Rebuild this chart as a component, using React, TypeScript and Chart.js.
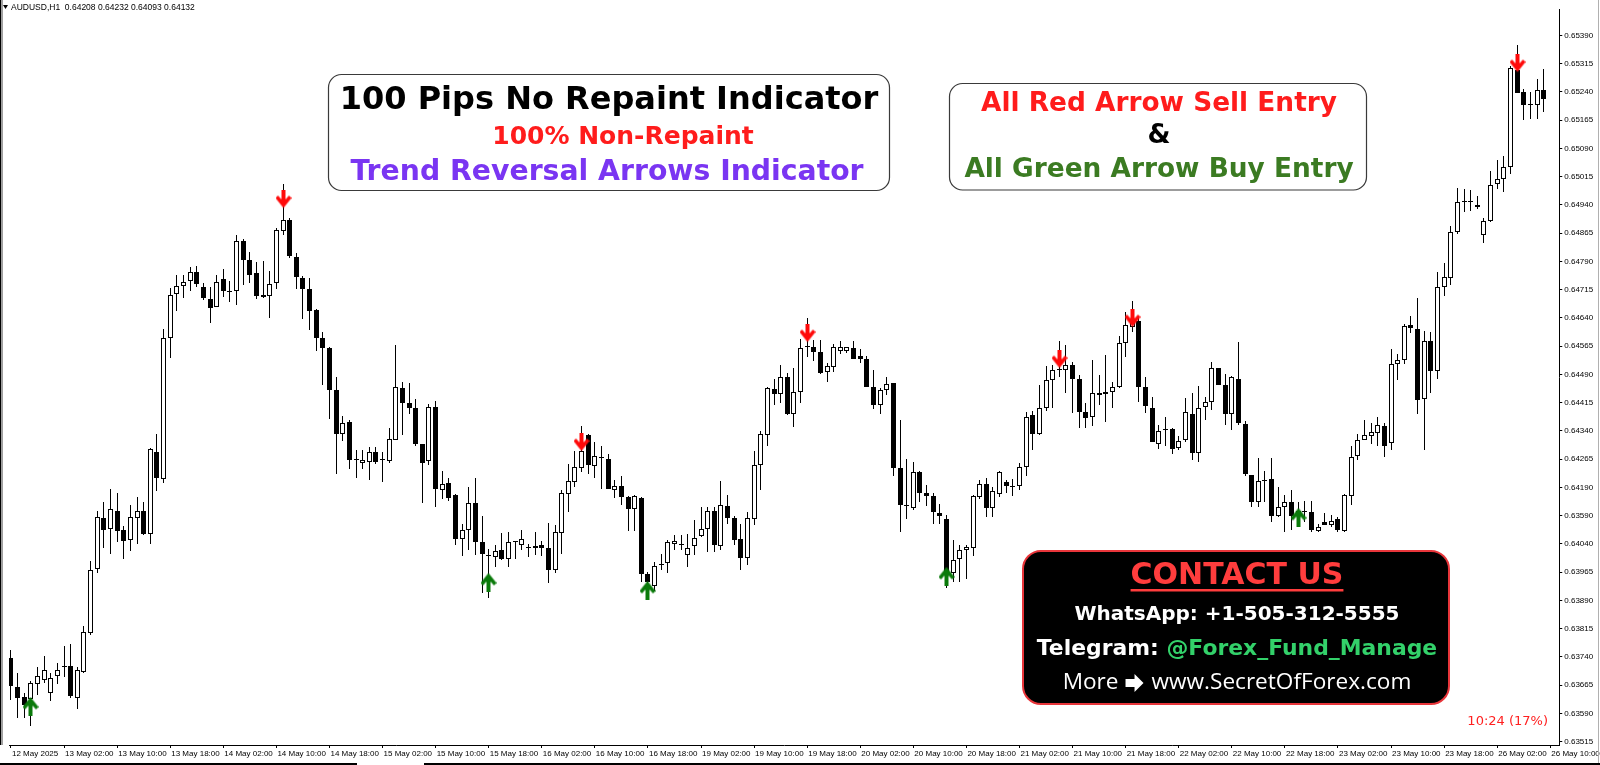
import React, { useEffect, useRef } from "react";
import { Chart, registerables } from "chart.js";

Chart.register(...registerables);

// ---- H1 candles, AUDUSD, 12 May 2025 18:00 -> 26 May 2025 09:00 ----
const openPrices = [
  0.63738, 0.63661, 0.63633, 0.63629, 0.63668, 0.6368, 0.63645, 0.63688, 0.63712, 0.63716,
  0.63632, 0.63699, 0.63803, 0.63973, 0.6411, 0.6408, 0.64128, 0.64076, 0.6405, 0.64109,
  0.64128, 0.64065, 0.64284, 0.64213, 0.64587, 0.64704, 0.64725, 0.64737, 0.64762, 0.64723,
  0.6469, 0.6467, 0.64743, 0.6471, 0.64711, 0.64845, 0.64795, 0.6476, 0.647, 0.64697,
  0.64733, 0.64872, 0.649, 0.64801, 0.64747, 0.64716, 0.64661, 0.64587, 0.6456, 0.64448,
  0.64333, 0.64365, 0.64264, 0.64255, 0.64257, 0.64284, 0.64264, 0.6426, 0.64315, 0.64455,
  0.64415, 0.644, 0.64304, 0.6426, 0.64404, 0.64183, 0.64203, 0.64169, 0.64054, 0.64077,
  0.64148, 0.64045, 0.64007, 0.64006, 0.64023, 0.63999, 0.64046, 0.64038, 0.64031, 0.64028,
  0.64038, 0.6403, 0.63971, 0.6407, 0.64172, 0.64205, 0.64242, 0.6433, 0.64247, 0.6427,
  0.64266, 0.64184, 0.64194, 0.64164, 0.64133, 0.64162, 0.6396, 0.63927, 0.63986, 0.6399,
  0.64041, 0.64041, 0.6401, 0.64034, 0.6406, 0.6408, 0.64128, 0.64034, 0.6414, 0.64108,
  0.64052, 0.64003, 0.64106, 0.64249, 0.64328, 0.64451, 0.64438, 0.64484, 0.64385, 0.64444,
  0.64563, 0.64564, 0.64549, 0.64497, 0.6451, 0.64552, 0.64552, 0.64561, 0.64539, 0.64532,
  0.64457, 0.64409, 0.64448, 0.64466, 0.64241, 0.64143, 0.64135, 0.64232, 0.64175, 0.64166,
  0.64122, 0.64105, 0.63962, 0.63999, 0.64023, 0.64029, 0.64164, 0.64199, 0.64136, 0.64172,
  0.64205, 0.64194, 0.64194, 0.64245, 0.64383, 0.64333, 0.64401, 0.64475, 0.64501, 0.64501,
  0.64516, 0.64477, 0.6439, 0.64376, 0.6444, 0.64437, 0.64442, 0.64457, 0.64573, 0.64617,
  0.64631, 0.64457, 0.644, 0.64304, 0.64346, 0.64346, 0.64295, 0.64315, 0.64385, 0.64282,
  0.64403, 0.64416, 0.64506, 0.64462, 0.64385, 0.64477, 0.64358, 0.64222, 0.64152, 0.6421,
  0.64212, 0.64115, 0.64137, 0.64152, 0.64115, 0.64125, 0.64124, 0.64074, 0.64097, 0.64089,
  0.64106, 0.64074, 0.64167, 0.64273, 0.64315, 0.64327, 0.64334, 0.64354, 0.64308, 0.64518,
  0.64527, 0.64622, 0.6461, 0.64424, 0.6458, 0.64499, 0.64723, 0.64746, 0.64869, 0.64948,
  0.64948, 0.64934, 0.6486, 0.64897, 0.64996, 0.65009, 0.6504, 0.65299, 0.65239, 0.65205,
  0.65205, 0.65246,
];
const highPrices = [
  0.63759, 0.63696, 0.63645, 0.63677, 0.63714, 0.63743, 0.63696, 0.63723, 0.63769, 0.63774,
  0.63712, 0.63823, 0.63994, 0.64128, 0.64151, 0.64186, 0.64174, 0.64087, 0.64143, 0.64165,
  0.64151, 0.64295, 0.64331, 0.6461, 0.6472, 0.64753, 0.64755, 0.64774, 0.64779, 0.64734,
  0.64723, 0.64753, 0.64771, 0.64737, 0.6486, 0.6485, 0.64814, 0.64788, 0.64792, 0.64765,
  0.64878, 0.64995, 0.64905, 0.64812, 0.64751, 0.64747, 0.64663, 0.64602, 0.64562, 0.64483,
  0.6438, 0.64369, 0.6429, 0.6429, 0.64298, 0.64298, 0.64283, 0.64349, 0.64569, 0.6447,
  0.64466, 0.64426, 0.64306, 0.64412, 0.6442, 0.64234, 0.64216, 0.64172, 0.64093, 0.6419,
  0.64216, 0.64113, 0.64027, 0.64036, 0.6407, 0.64071, 0.64049, 0.64078, 0.64041, 0.64071,
  0.64049, 0.64096, 0.64089, 0.64183, 0.64251, 0.64286, 0.64352, 0.64332, 0.6431, 0.64299,
  0.64278, 0.64209, 0.6422, 0.64166, 0.64171, 0.64164, 0.63966, 0.63993, 0.64014, 0.6405,
  0.64063, 0.64064, 0.64065, 0.64104, 0.64137, 0.64137, 0.64137, 0.64206, 0.6417, 0.64115,
  0.64093, 0.64126, 0.64286, 0.64339, 0.64457, 0.64479, 0.64514, 0.64495, 0.64506, 0.64584,
  0.64641, 0.64582, 0.64582, 0.64519, 0.64571, 0.64578, 0.64564, 0.64578, 0.64558, 0.64538,
  0.64503, 0.64453, 0.64484, 0.64468, 0.6437, 0.64266, 0.64257, 0.64234, 0.64197, 0.64175,
  0.64146, 0.64117, 0.6405, 0.64038, 0.64036, 0.6417, 0.6421, 0.64216, 0.6419, 0.64234,
  0.64209, 0.64212, 0.64254, 0.64391, 0.64393, 0.64462, 0.64512, 0.64514, 0.6458, 0.64567,
  0.64523, 0.64488, 0.64413, 0.64529, 0.64488, 0.64541, 0.6447, 0.64593, 0.64655, 0.64685,
  0.6464, 0.64484, 0.64431, 0.64356, 0.64378, 0.64348, 0.64326, 0.64428, 0.6444, 0.64459,
  0.64429, 0.64523, 0.64508, 0.64492, 0.64485, 0.64576, 0.64367, 0.64224, 0.64269, 0.64234,
  0.64269, 0.6419, 0.6417, 0.64184, 0.6415, 0.64154, 0.64154, 0.64093, 0.64121, 0.64117,
  0.64111, 0.64172, 0.64299, 0.64332, 0.64369, 0.64362, 0.64376, 0.64362, 0.64558, 0.64545,
  0.64625, 0.64646, 0.64692, 0.64606, 0.64602, 0.64761, 0.64786, 0.64885, 0.64986, 0.64981,
  0.64979, 0.64963, 0.64906, 0.65031, 0.65058, 0.65069, 0.65308, 0.65365, 0.65248, 0.65239,
  0.65274, 0.65301,
];
const lowPrices = [
  0.63625, 0.63577, 0.63577, 0.63556, 0.63638, 0.63672, 0.63622, 0.63668, 0.63686, 0.6363,
  0.63603, 0.63696, 0.63799, 0.63963, 0.64029, 0.64012, 0.64045, 0.63999, 0.64022, 0.6404,
  0.64064, 0.6404, 0.6418, 0.64202, 0.64533, 0.64659, 0.64693, 0.64711, 0.64723, 0.64688,
  0.64626, 0.64669, 0.64695, 0.64681, 0.64674, 0.64727, 0.64734, 0.6469, 0.64693, 0.64641,
  0.64716, 0.64859, 0.64799, 0.64716, 0.64637, 0.64609, 0.64552, 0.64461, 0.64371, 0.64225,
  0.64312, 0.6424, 0.64216, 0.6424, 0.6421, 0.64251, 0.64205, 0.64255, 0.64315, 0.6433,
  0.64385, 0.64299, 0.64148, 0.64249, 0.64137, 0.64159, 0.64155, 0.64036, 0.64008, 0.64023,
  0.6401, 0.63909, 0.63896, 0.63979, 0.63997, 0.63979, 0.63999, 0.64023, 0.64004, 0.6401,
  0.64008, 0.63935, 0.63964, 0.64012, 0.64124, 0.64192, 0.64231, 0.64225, 0.64216, 0.64187,
  0.64185, 0.64163, 0.64143, 0.64073, 0.64073, 0.6394, 0.63892, 0.63914, 0.63971, 0.63964,
  0.64023, 0.64023, 0.63979, 0.6401, 0.64058, 0.64019, 0.64019, 0.64023, 0.64093, 0.64036,
  0.63971, 0.63984, 0.64089, 0.64184, 0.64301, 0.64409, 0.64413, 0.64383, 0.6435, 0.64413,
  0.64536, 0.64525, 0.64491, 0.6447, 0.64497, 0.64543, 0.64547, 0.6453, 0.64519, 0.64456,
  0.64398, 0.64385, 0.64435, 0.64219, 0.64071, 0.64106, 0.6413, 0.6415, 0.6414, 0.64093,
  0.64093, 0.63922, 0.6394, 0.6394, 0.63947, 0.64008, 0.64159, 0.64111, 0.64111, 0.64164,
  0.64175, 0.64168, 0.64183, 0.64219, 0.64289, 0.64328, 0.64392, 0.644, 0.64484, 0.6444,
  0.64387, 0.64348, 0.64348, 0.64352, 0.64409, 0.64365, 0.644, 0.64453, 0.64536, 0.64602,
  0.64418, 0.64387, 0.6431, 0.64291, 0.64299, 0.6428, 0.64289, 0.6431, 0.64264, 0.64257,
  0.64368, 0.64396, 0.64462, 0.64356, 0.64343, 0.64356, 0.6422, 0.64137, 0.64137, 0.64152,
  0.64098, 0.64111, 0.64071, 0.64076, 0.64085, 0.64098, 0.64071, 0.64071, 0.64089, 0.64084,
  0.64071, 0.64071, 0.64143, 0.64264, 0.64315, 0.64304, 0.64299, 0.64271, 0.64289, 0.64475,
  0.64517, 0.64599, 0.64385, 0.6429, 0.64441, 0.64479, 0.64698, 0.64727, 0.64863, 0.64922,
  0.64924, 0.64928, 0.64838, 0.64894, 0.64981, 0.64975, 0.65023, 0.65236, 0.65166, 0.65167,
  0.65167, 0.65187,
];
const closePrices = [
  0.63664, 0.63632, 0.63611, 0.6367, 0.6369, 0.63706, 0.63683, 0.63706, 0.63716, 0.63635,
  0.63706, 0.63805, 0.63971, 0.64111, 0.64077, 0.64132, 0.64075, 0.64047, 0.64111, 0.64128,
  0.64065, 0.64291, 0.64216, 0.64587, 0.64702, 0.64725, 0.64735, 0.64762, 0.64729, 0.64693,
  0.64667, 0.64735, 0.64711, 0.64712, 0.64844, 0.64794, 0.64755, 0.64698, 0.64695, 0.64731,
  0.64874, 0.649, 0.64804, 0.64749, 0.64716, 0.64659, 0.64587, 0.6456, 0.64448, 0.64333,
  0.64362, 0.64264, 0.64262, 0.64262, 0.64284, 0.64257, 0.64262, 0.64319, 0.64457, 0.64415,
  0.644, 0.64304, 0.64254, 0.64403, 0.64185, 0.64198, 0.64163, 0.64054, 0.64077, 0.64148,
  0.64045, 0.64012, 0.6401, 0.6402, 0.63999, 0.64045, 0.64047, 0.64052, 0.6403, 0.64034,
  0.64029, 0.63971, 0.64071, 0.64174, 0.64206, 0.64244, 0.64286, 0.64249, 0.64273, 0.64267,
  0.64187, 0.64194, 0.64164, 0.64133, 0.64168, 0.63959, 0.6394, 0.63981, 0.63984, 0.64045,
  0.64048, 0.64038, 0.6403, 0.64056, 0.6408, 0.64128, 0.64038, 0.64142, 0.64108, 0.64051,
  0.64003, 0.64108, 0.64249, 0.64332, 0.64453, 0.64438, 0.64484, 0.64385, 0.64444, 0.6456,
  0.64562, 0.64549, 0.64495, 0.64512, 0.64563, 0.64564, 0.64562, 0.64532, 0.6453, 0.64457,
  0.64409, 0.64448, 0.64464, 0.64241, 0.64142, 0.6414, 0.64232, 0.64175, 0.64168, 0.64124,
  0.64114, 0.63957, 0.63997, 0.64023, 0.64032, 0.64166, 0.64199, 0.64136, 0.64181, 0.64231,
  0.64193, 0.64192, 0.64245, 0.64378, 0.64333, 0.64401, 0.64475, 0.64503, 0.64502, 0.64516,
  0.64477, 0.6439, 0.64374, 0.64441, 0.64435, 0.64442, 0.64457, 0.64573, 0.6462, 0.64631,
  0.64457, 0.64405, 0.6431, 0.64339, 0.64342, 0.64291, 0.64312, 0.64389, 0.64282, 0.644,
  0.64416, 0.64506, 0.64462, 0.64385, 0.64482, 0.64361, 0.64225, 0.64152, 0.64207, 0.64208,
  0.64115, 0.64137, 0.6415, 0.64115, 0.64128, 0.64127, 0.64076, 0.64084, 0.6409, 0.64102,
  0.64076, 0.64169, 0.6427, 0.64315, 0.6433, 0.64336, 0.64356, 0.64301, 0.64518, 0.64529,
  0.64619, 0.64613, 0.64422, 0.6458, 0.64499, 0.64723, 0.64748, 0.64869, 0.64948, 0.64949,
  0.64948, 0.64941, 0.64897, 0.64992, 0.65009, 0.6504, 0.65303, 0.65238, 0.65204, 0.65204,
  0.65246, 0.65222,
];

// ---- indicator arrows (bar index, price) ----
const sellArrowBars = [41, 86, 120, 158, 169, 227];
const sellArrowPrices = [0.64957, 0.6431, 0.646, 0.6453, 0.64641, 0.65316];
const buyArrowBars = [3, 72, 96, 141, 194];
const buyArrowPrices = [0.6361, 0.6394, 0.63917, 0.63955, 0.64111];

// ---- axis ticks ----
const xTickBars = [
  0, 8, 16, 24, 32, 40, 48, 56, 64, 72, 80, 88, 96, 104, 112, 120, 128, 136, 144, 152, 160,
  168, 176, 184, 192, 200, 208, 216, 224, 232,
];
const xTickLabels = [
  "12 May 2025", "13 May 02:00", "13 May 10:00", "13 May 18:00", "14 May 02:00",
  "14 May 10:00", "14 May 18:00", "15 May 02:00", "15 May 10:00", "15 May 18:00",
  "16 May 02:00", "16 May 10:00", "16 May 18:00", "19 May 02:00", "19 May 10:00",
  "19 May 18:00", "20 May 02:00", "20 May 10:00", "20 May 18:00", "21 May 02:00",
  "21 May 10:00", "21 May 18:00", "22 May 02:00", "22 May 10:00", "22 May 18:00",
  "23 May 02:00", "23 May 10:00", "23 May 18:00", "26 May 02:00", "26 May 10:00",
];
const yTickValues = [
  0.63515, 0.6359, 0.63665, 0.6374, 0.63815, 0.6389, 0.63965, 0.6404, 0.64115, 0.6419,
  0.64265, 0.6434, 0.64415, 0.6449, 0.64565, 0.6464, 0.64715, 0.6479, 0.64865, 0.6494,
  0.65015, 0.6509, 0.65165, 0.6524, 0.65315, 0.6539,
];
const yTickLabels = [
  "0.63515", "0.63590", "0.63665", "0.63740", "0.63815", "0.63890", "0.63965", "0.64040",
  "0.63590", "0.64190", "0.64265", "0.64340", "0.64415", "0.64490", "0.64565", "0.64640",
  "0.64715", "0.64790", "0.64865", "0.64940", "0.65015", "0.65090", "0.65165", "0.65240",
  "0.65315", "0.65390",
];

const Y_MIN = 0.635061;
const Y_MAX = 0.654602;
const X_MIN = -0.3;
const X_MAX = 233.35;

function makeArrow(color: string, down: boolean): HTMLCanvasElement {
  const c = document.createElement("canvas");
  c.width = 16;
  c.height = 19;
  const g = c.getContext("2d")!;
  const pts = [
    [6, 0], [10, 0], [10, 10], [13.5, 6], [16, 8.5], [8, 18.5], [0, 8.5], [2.5, 6], [6, 10],
  ];
  g.fillStyle = color;
  g.beginPath();
  pts.forEach(([x, y], i) => {
    const yy = down ? y : 19 - y;
    if (i === 0) g.moveTo(x, yy);
    else g.lineTo(x, yy);
  });
  g.closePath();
  g.fill();
  return c;
}

// snap candle elements to whole pixels so wicks stay crisp 1px black lines
const snapPlugin = {
  id: "snap",
  afterDatasetsUpdate(chart: any) {
    chart.data.datasets.forEach((_ds: any, di: number) => {
      const meta = chart.getDatasetMeta(di);
      meta.data.forEach((el: any) => {
        el.x = Math.floor(el.x) + 0.5;
        if (meta.type === "bar") {
          el.y = Math.round(el.y);
          el.base = Math.round(el.base);
          el.height = el.base - el.y;
        } else {
          el.y = Math.round(el.y);
        }
      });
    });
  },
};

const overlayPlugin = {
  id: "overlay",
  afterDraw(chart: any) {
    const ctx: CanvasRenderingContext2D = chart.ctx;
    ctx.save();
    // frame pieces
    ctx.fillStyle = "#000";
    ctx.fillRect(0, 0, 1, 745);
    ctx.fillStyle = "#a0a0a0";
    ctx.fillRect(1, 0, 2, 745);
    ctx.fillStyle = "#000";
    ctx.fillRect(0, 763, 357, 2);
    ctx.fillRect(424, 763, 1176, 2);
    ctx.fillStyle = "#b0b0b0";
    ctx.fillRect(1598, 0, 1, 763);

    // symbol header
    ctx.fillStyle = "#000";
    ctx.beginPath();
    ctx.moveTo(3, 5);
    ctx.lineTo(8, 5);
    ctx.lineTo(5.5, 9);
    ctx.closePath();
    ctx.fill();
    ctx.font = "8.5px 'Liberation Sans'";
    ctx.textAlign = "left";
    ctx.textBaseline = "middle";
    ctx.fillText("AUDUSD,H1  0.64208 0.64232 0.64093 0.64132", 11, 7.5);

    // box 1
    ctx.beginPath();
    ctx.roundRect(328.5, 74.5, 561, 116, 13);
    ctx.fillStyle = "#fff";
    ctx.fill();
    ctx.lineWidth = 1.2;
    ctx.strokeStyle = "#3a3a3a";
    ctx.stroke();
    ctx.textAlign = "center";
    ctx.textBaseline = "middle";
    ctx.fillStyle = "#000";
    ctx.font = "bold 32px 'DejaVu Sans'";
    ctx.fillText("100 Pips No Repaint Indicator", 609, 101);
    ctx.fillStyle = "#ff1c1c";
    ctx.font = "bold 25px 'DejaVu Sans'";
    ctx.fillText("100% Non-Repaint", 623, 137);
    ctx.fillStyle = "#7a35f2";
    ctx.font = "bold 28.3px 'DejaVu Sans'";
    ctx.fillText("Trend Reversal Arrows Indicator", 607, 173);

    // box 2
    ctx.beginPath();
    ctx.roundRect(949.5, 83.5, 417, 106.5, 13);
    ctx.fillStyle = "#fff";
    ctx.fill();
    ctx.strokeStyle = "#3a3a3a";
    ctx.stroke();
    ctx.font = "bold 26.4px 'DejaVu Sans'";
    ctx.fillStyle = "#ff1c1c";
    ctx.fillText("All Red Arrow Sell Entry", 1159, 104);
    ctx.fillStyle = "#000";
    ctx.fillText("&", 1159, 136);
    ctx.fillStyle = "#3b7b22";
    ctx.fillText("All Green Arrow Buy Entry", 1159, 170);

    // contact box
    ctx.beginPath();
    ctx.roundRect(1023, 551, 426, 153, 18);
    ctx.fillStyle = "#000";
    ctx.fill();
    ctx.lineWidth = 2;
    ctx.strokeStyle = "#e8353a";
    ctx.stroke();
    const cx = 1237;
    ctx.font = "bold 30px 'DejaVu Sans'";
    ctx.fillStyle = "#ff3d3d";
    ctx.fillText("CONTACT US", cx, 576);
    const cw = ctx.measureText("CONTACT US").width;
    ctx.fillRect(cx - cw / 2, 589, cw, 2.5);
    ctx.font = "bold 20px 'DejaVu Sans'";
    ctx.fillStyle = "#fff";
    ctx.fillText("WhatsApp: +1-505-312-5555", cx, 615);
    ctx.font = "bold 21.9px 'DejaVu Sans'";
    const t1 = "Telegram: ";
    const t2 = "@Forex_Fund_Manage";
    const w1 = ctx.measureText(t1).width;
    const w2 = ctx.measureText(t2).width;
    const sx = cx - (w1 + w2) / 2;
    ctx.textAlign = "left";
    ctx.fillStyle = "#fff";
    ctx.fillText(t1, sx, 649);
    ctx.fillStyle = "#33d16a";
    ctx.fillText(t2, sx + w1, 649);
    ctx.font = "22.6px 'Open Sans'";
    const m1 = "More";
    const m2 = "www.SecretOfForex.com";
    const mw1 = ctx.measureText(m1).width;
    const mw2 = ctx.measureText(m2).width;
    const aw = 18;
    const total = mw1 + 7 + aw + 8 + mw2;
    let px = cx - total / 2;
    ctx.fillStyle = "#fff";
    ctx.fillText(m1, px, 683);
    px += mw1 + 7;
    ctx.beginPath();
    ctx.moveTo(px, 679);
    ctx.lineTo(px + 9, 679);
    ctx.lineTo(px + 9, 674);
    ctx.lineTo(px + aw, 683);
    ctx.lineTo(px + 9, 692);
    ctx.lineTo(px + 9, 687);
    ctx.lineTo(px, 687);
    ctx.closePath();
    ctx.fill();
    px += aw + 8;
    ctx.fillText(m2, px, 683);

    // timer
    ctx.textAlign = "right";
    ctx.font = "13px 'DejaVu Sans'";
    ctx.fillStyle = "#ff2020";
    ctx.fillText("10:24 (17%)", 1548, 722);
    ctx.restore();
  },
};

export default function App() {
  const ref = useRef<HTMLCanvasElement>(null);
  useEffect(() => {
    const canvas = ref.current!;
    const redArrow = makeArrow("#ff0a0a", true);
    const greenArrow = makeArrow("#0a7a0a", false);
    const bodies = openPrices.map((o, i) => ({
      x: i,
      y: [Math.min(o, closePrices[i]), Math.max(o, closePrices[i])],
    }));
    const bodyColors = openPrices.map((o, i) => (closePrices[i] >= o ? "#ffffff" : "#000000"));
    const wicks = highPrices.map((h, i) => ({ x: i, y: [lowPrices[i], h] }));
    const sellPts = sellArrowBars.map((b, i) => ({ x: b, y: sellArrowPrices[i] }));
    const buyPts = buyArrowBars.map((b, i) => ({ x: b, y: buyArrowPrices[i] }));
    const tickFont = { family: "'Liberation Sans'", size: 8 };

    const chart = new Chart(canvas, {
      type: "bar",
      data: {
        datasets: [
          { type: "scatter", data: sellPts, pointStyle: redArrow, pointRadius: 8 } as any,
          { type: "scatter", data: buyPts, pointStyle: greenArrow, pointRadius: 8 } as any,
          {
            type: "bar",
            data: bodies as any,
            backgroundColor: bodyColors,
            borderColor: "#000",
            borderWidth: 1,
            borderSkipped: false,
            barThickness: 5,
            minBarLength: 1,
            inflateAmount: 0,
            grouped: false,
          } as any,
          {
            type: "bar",
            data: wicks as any,
            backgroundColor: "#000",
            borderWidth: 0,
            barThickness: 1,
            inflateAmount: 0,
            grouped: false,
          } as any,
        ],
      },
      options: {
        responsive: false,
        maintainAspectRatio: false,
        devicePixelRatio: 1,
        animation: false,
        events: [],
        layout: { padding: { left: 3, top: 2, right: 0, bottom: 0 } },
        plugins: { legend: { display: false }, tooltip: { enabled: false } },
        scales: {
          x: {
            type: "linear",
            min: X_MIN,
            max: X_MAX,
            offset: false,
            bounds: "data",
            grid: { drawOnChartArea: false, drawTicks: true, tickLength: 3, color: "#000", offset: false },
            border: { display: true, color: "#000", width: 1 },
            afterBuildTicks: (scale: any) => {
              scale.ticks = xTickBars.map((v) => ({ value: v }));
            },
            afterFit: (scale: any) => {
              scale.height = 20;
            },
            ticks: {
              autoSkip: false,
              maxRotation: 0,
              minRotation: 0,
              align: "start",
              labelOffset: 1,
              padding: 1,
              color: "#000",
              font: tickFont,
              callback: (_v: any, i: number) => xTickLabels[i],
            },
          },
          y: {
            type: "linear",
            position: "right",
            min: Y_MIN,
            max: Y_MAX,
            bounds: "data",
            grid: { drawOnChartArea: false, drawTicks: true, tickLength: 3, color: "#000" },
            border: { display: true, color: "#000", width: 1 },
            afterBuildTicks: (scale: any) => {
              scale.ticks = yTickValues.map((v) => ({ value: v }));
            },
            afterFit: (scale: any) => {
              scale.width = 39;
            },
            ticks: {
              padding: 2,
              color: "#000",
              font: tickFont,
              callback: (_v: any, i: number) => yTickLabels[i],
            },
          },
        },
      },
      plugins: [snapPlugin, overlayPlugin],
    } as any);
    return () => chart.destroy();
  }, []);

  return (
    <div style={{ position: "fixed", left: 0, top: 0, width: 1600, height: 765, background: "#fff" }}>
      <canvas ref={ref} width={1600} height={765} style={{ display: "block", width: 1600, height: 765 }} />
    </div>
  );
}
